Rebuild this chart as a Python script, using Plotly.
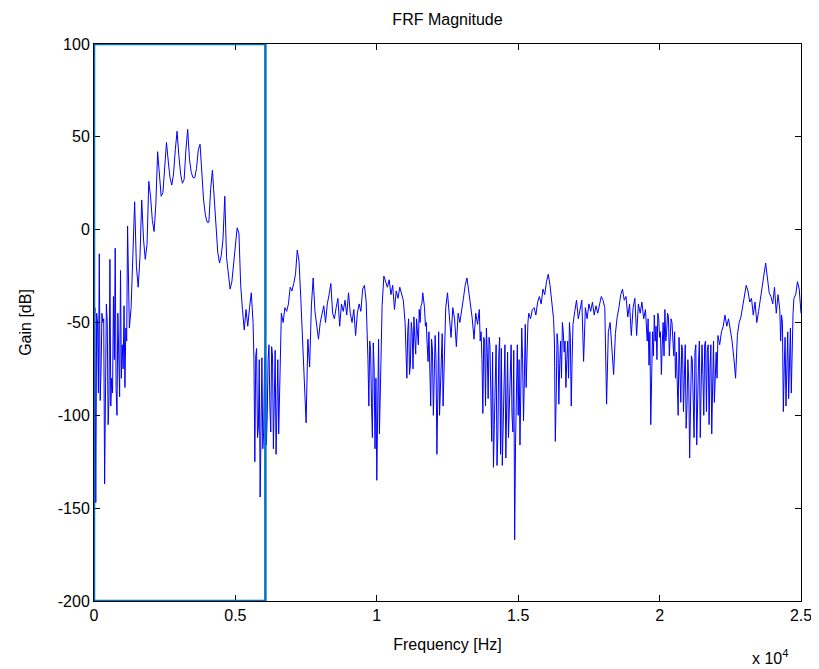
import numpy as np
import plotly.graph_objects as go

# ---- data ----
freq_step_hz = 62.5          # sample spacing of the FRF (Hz)
gain_db = [
    -55, -147, -50, -13, -75, -50, -137, -40, -105, -16,      # 0-9
    -80, -36, -10, -100, -73, -22, -62, -41, -53, 2,          # 10-19
    -53, -42, -10, 15, -20, -31, -15, 16, -5, -16,            # 20-29
    -8, 26, 18, 5, -1, 14, 42, 30, 18, 20,                    # 30-39
    34, 47, 37, 28, 24, 30, 43, 53, 40, 30,                   # 40-49
    25, 27, 43, 54, 38, 31, 28, 28, 33, 43,                   # 50-59
    46, 31, 16, 8, 4, 4, 22, 32, 17, -2,                      # 60-69
    -12, -18, -14, -5, 18, -15, -24, -32, -28, -18,           # 70-79
    -10, 1, -2, -30, -43, -54, -43, -52, -42, -34,            # 80-89
    -50, -125, -64, -107, -144, -69, -109, -66, -100, -62,    # 90-99
    -109, -68, -95, -121, -70, -87, -45, -50, -42, -44,       # 100-109
    -40, -31, -33, -29, -24, -11, -17, -37, -57, -85,         # 110-119
    -104, -59, -74, -41, -26, -44, -53, -59, -50, -45,        # 120-129
    -41, -50, -40, -35, -29, -45, -48, -42, -37, -52,         # 130-139
    -40, -44, -38, -46, -34, -45, -50, -43, -57, -45,         # 140-149
    -40, -44, -32, -30, -39, -70, -60, -93, -61, -118,        # 150-159
    -135, -59, -85, -41, -25, -28, -31, -27, -35, -30,        # 160-169
    -43, -33, -37, -31, -35, -38, -50, -80, -48, -73,         # 170-179
    -55, -47, -67, -53, -43, -41, -34, -42, -50, -71,         # 180-189
    -86, -59, -100, -57, -121, -55, -80, -56, -75, -42,       # 190-199
    -34, -46, -58, -42, -48, -63, -45, -50, -42, -37,         # 200-209
    -30, -26, -33, -40, -48, -59, -45, -51, -43, -55,         # 210-219
    -99, -60, -53, -91, -62, -114, -128, -70, -127, -68,      # 220-229
    -121, -127, -75, -123, -66, -95, -62, -109, -167, -70,    # 230-239
    -100, -116, -53, -103, -51, -57, -45, -48, -43, -42,      # 240-249
    -46, -39, -36, -40, -32, -35, -28, -24, -30, -40,         # 250-259
    -48, -114, -56, -94, -60, -50, -66, -85, -60, -50,        # 260-269
    -95, -51, -44, -38, -48, -42, -38, -71, -42, -48,         # 270-279
    -40, -44, -39, -46, -41, -45, -40, -36, -38, -42,         # 280-289
    -94, -55, -50, -62, -78, -56, -47, -42, -35, -32,         # 290-299
    -38, -36, -47, -40, -57, -42, -37, -57, -40, -45,         # 300-309
    -39, -48, -43, -60, -73, -105, -55, -46, -52, -45,        # 310-319
    -58, -78, -50, -43, -55, -47, -56, -50, -68, -80,         # 320-329
    -89, -58, -93, -65, -78, -107, -70, -123, -68, -95,       # 330-339
    -66, -116, -72, -112, -62, -100, -60, -65, -105, -62,     # 340-349
    -82, -93, -66, -57, -62, -55, -52, -46, -52, -48,         # 350-359
    -54, -60, -69, -80, -57, -50, -47, -42, -35, -30,         # 360-369
    -33, -39, -37, -46, -39, -50, -44, -37, -31, -23,         # 370-379
    -18, -26, -34, -36, -40, -31, -45, -35, -43, -46,         # 380-389
    -98, -58, -64, -91, -53, -57, -37, -35, -28, -32,         # 390-399
    -45,                                                      # 400
]

# extra half-step readings inside the densely oscillating bands:
# (first sample index of the band, values read midway between samples)
noise_band_a_start = 0
noise_band_a = [-42, -45, -88, -92, -45, -48, -78, -50, -90, -95,
                -88, -70, -85, -45, -90, -80, -75, -85, -60]
noise_band_b_start = 90
noise_band_b = [-70, -68, -112, -70, -100, -118, -72, -116, -70, -95,
                -63, -118, -65, -80, -110, -60]
noise_band_c_start = 155
noise_band_c = [-95, -65, -112, -75, -80, -98, -110, -60]
noise_band_d_start = 176
noise_band_d = [-62, -55, -78, -50, -75, -58, -48, -62, -50, -40,
                -38, -52, -62, -55, -95, -65, -80, -70, -90, -100,
                -62, -95]
noise_band_e_start = 218
noise_band_e = [-60, -70, -58, -95, -66, -58, -88, -66, -105, -62,
                -110, -58, -64, -100, -62, -98, -112, -70, -100, -65,
                -115, -62, -70, -88, -70, -80, -85, -50]
noise_band_f_start = 260
noise_band_f = [-60, -90, -62, -72, -80, -55, -60, -70, -80, -58, -70]
noise_band_g_start = 313
noise_band_g = [-48, -55, -70, -68, -60, -70, -48, -55, -62, -68,
                -60, -45, -68, -48, -62, -55, -66, -100, -72, -62,
                -98, -62, -95, -82, -100, -70, -112, -62, -90, -60,
                -85, -78, -62, -98, -62, -75, -110, -60, -70, -80]
noise_band_h_start = 388
noise_band_h = [-60, -50, -75, -95, -55, -70, -88, -45]

x_tick_vals = [0, 5000, 10000, 15000, 20000, 25000]
x_tick_text = ["0", "0.5", "1", "1.5", "2", "2.5"]
y_tick_vals = [100, 50, 0, -50, -100, -150, -200]
y_tick_text = ["100", "50", "0", "-50", "-100", "-150", "-200"]

highlight_freq = [0, 6060]      # Hz range of the highlighted band
highlight_gain = [-200, 100]    # dB range of the highlighted band

# ---- assemble the trace ----
freq_all = list(np.arange(len(gain_db)) * freq_step_hz)
gain_all = list(gain_db)
for start, band in [
    (noise_band_a_start, noise_band_a), (noise_band_b_start, noise_band_b),
    (noise_band_c_start, noise_band_c), (noise_band_d_start, noise_band_d),
    (noise_band_e_start, noise_band_e), (noise_band_f_start, noise_band_f),
    (noise_band_g_start, noise_band_g), (noise_band_h_start, noise_band_h),
]:
    for k, v in enumerate(band):
        freq_all.append((start + k + 0.5) * freq_step_hz)
        gain_all.append(v)
order = np.argsort(freq_all, kind="stable")
freq_hz = np.asarray(freq_all)[order]
gain = np.asarray(gain_all)[order]

FONT = "Liberation Sans, Arial, Helvetica, sans-serif"
FS = 16

fig = go.Figure()
fig.add_trace(go.Scatter(
    x=freq_hz, y=gain, mode="lines",
    line=dict(color="#0000FF", width=1),
    showlegend=False, hoverinfo="skip",
))

fig.add_shape(
    type="rect", xref="x", yref="y",
    x0=highlight_freq[0], x1=highlight_freq[1],
    y0=highlight_gain[0], y1=highlight_gain[1],
    line=dict(color="#0072BD", width=2.5),
    fillcolor="rgba(0,0,0,0)",
)

axis_common = dict(
    showline=True, linecolor="black", linewidth=1, mirror="ticks",
    ticks="inside", ticklen=6, tickcolor="black", tickwidth=1,
    showgrid=False, zeroline=False,
    tickfont=dict(family=FONT, size=FS, color="black"),
)

fig.update_xaxes(
    range=[0, 25000], tickvals=x_tick_vals, ticktext=x_tick_text,
    title=dict(text="Frequency [Hz]", font=dict(family=FONT, size=FS, color="black"), standoff=15),
    **axis_common,
)
fig.update_yaxes(
    range=[-200, 100], tickvals=y_tick_vals, ticktext=y_tick_text,
    title=dict(text="Gain [dB]", font=dict(family=FONT, size=FS, color="black"), standoff=22),
    **axis_common,
)

fig.add_annotation(
    text="x 10<sup>4</sup>", xref="paper", yref="paper",
    x=0.984, y=-0.100, xanchor="right", yanchor="middle", showarrow=False,
    font=dict(family=FONT, size=FS, color="black"),
)

# the page body adds an 8 px offset, so the figure is drawn 8 px smaller
fig.update_layout(
    width=811, height=661,
    margin=dict(l=86, r=18, t=36, b=68, autoexpand=False),
    paper_bgcolor="white", plot_bgcolor="white",
    title=dict(text="FRF Magnitude", x=0.5, xref="paper", xanchor="center",
               y=0.983, yanchor="middle",
               font=dict(family=FONT, size=FS, color="black")),
)

fig.write_html("out.html")
